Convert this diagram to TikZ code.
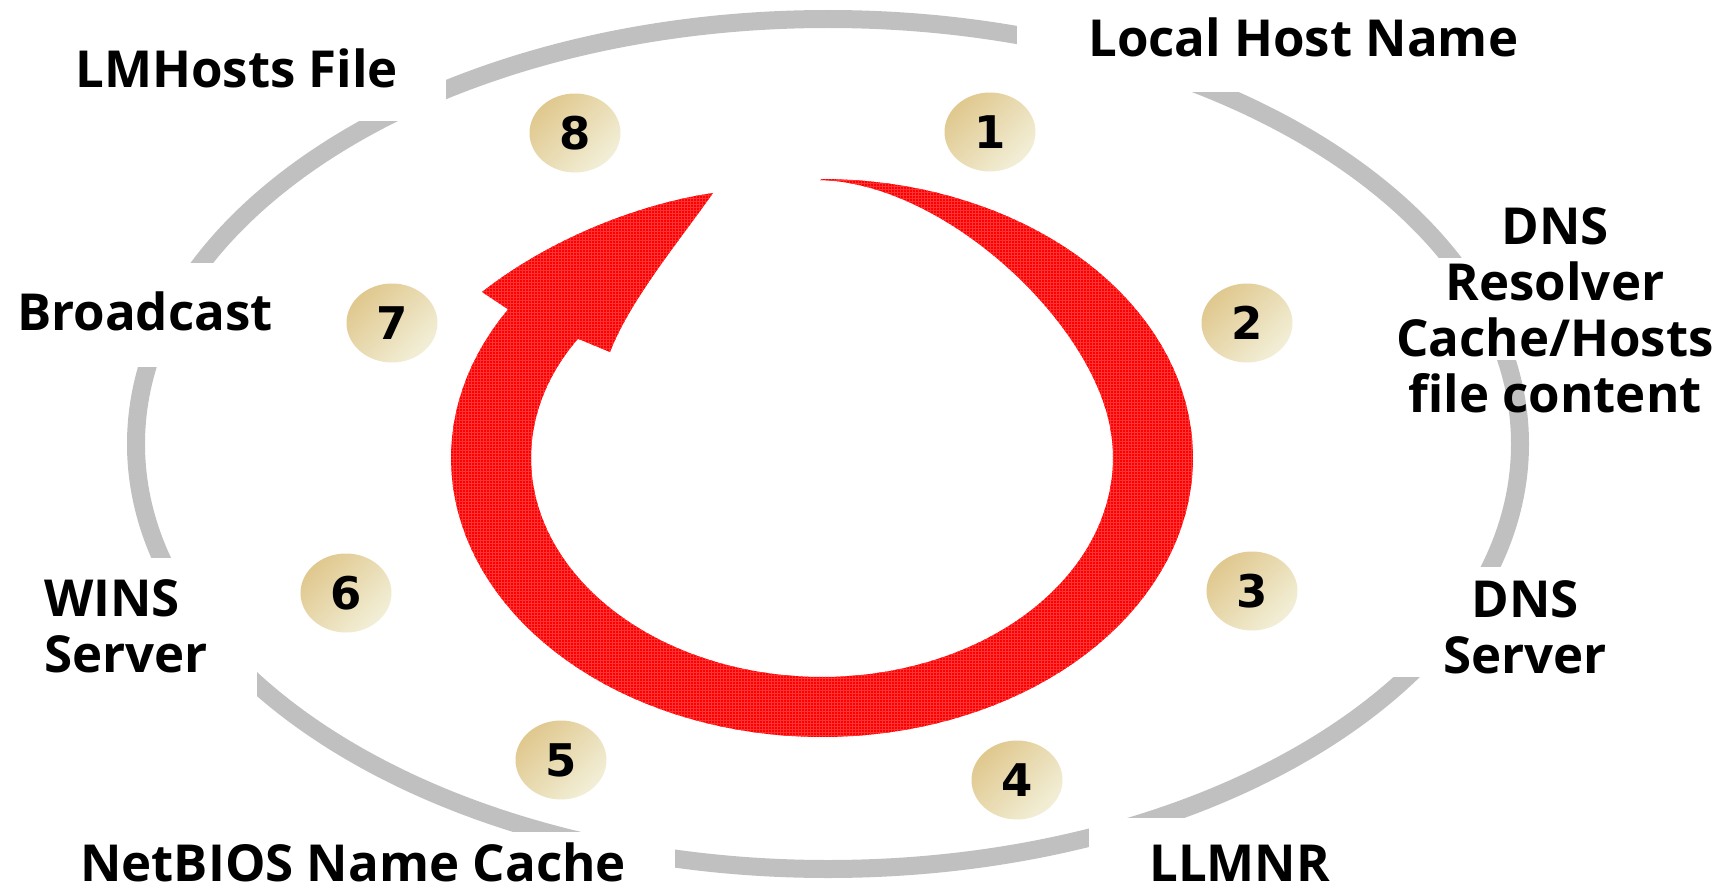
\documentclass[tikz,border=0pt]{standalone}
\usepackage{fontspec}
\setmainfont{Open Sans}
\newfontfamily\badgefont{DejaVu Sans}
\usetikzlibrary{shapes.geometric,patterns}

\definecolor{ringgray}{RGB}{192,192,192}
\definecolor{badgetan}{RGB}{224,200,142}
\definecolor{badgecream}{RGB}{242,239,216}
\definecolor{arrowred}{RGB}{255,0,0}

\begin{document}
\begin{tikzpicture}[x=1pt, y=-1pt,
    badge/.style={ellipse, minimum width=91pt, minimum height=79pt, inner sep=0pt,
        top color=badgetan, bottom color=badgecream, shading angle=45,
        font=\badgefont\bfseries\fontsize{45}{45}\selectfont},
    entry/.style={inner sep=0pt, font=\bfseries\fontsize{51}{56}\selectfont},
    gap/.style={fill=white}
]
\useasboundingbox (0,0) rectangle (1733,891);

% Grey ring
\draw[ringgray, line width=18pt] (828,444) ellipse [x radius=692pt, y radius=425pt];

% Gaps in the ring behind the labels
\fill[gap] (-5,-5) rectangle (446,121);
\fill[gap] (1017,-5) rectangle (1600,92);
\fill[gap] (1400,258) rectangle (1740,360);
\fill[gap] (1380,567) rectangle (1700,677);
\fill[gap] (1089,818) rectangle (1400,900);
\fill[gap] (-5,832) rectangle (675,900);
\fill[gap] (-5,558) rectangle (257,705);
\fill[gap] (-5,263) rectangle (290,367);

% Red circular arrow
\fill[arrowred, postaction={pattern=grid, pattern color=red!80!white}]
    plot[domain=-90:212.2, samples=120] ({822+371*cos(\x)}, {458+279*sin(\x)})
    -- (482,292) .. controls (555,235) and (645,203) .. (713,193)
    .. controls (680,240) and (630,300) .. (610,352)
    -- plot[domain=-213:10, samples=120] ({822+291*cos(-\x)}, {458+219*sin(-\x)})
    .. controls (1083,312) and (940,183) .. (820,180) -- cycle;

% Numbered steps
\foreach \n/\px/\py in {1/990/132, 2/1247/323, 3/1252/591, 4/1017/780,
                        5/561/760, 6/346/593, 7/392/323, 8/575/133}
    \node[badge] (step\n) at (\px,\py) {\n};

% Labels (multi-line ones sit on their last baseline)
\node[entry, anchor=base west] (localhost) at (1088,57) {Local Host Name};
\node[entry, anchor=base, align=center] (resolver) at (1555,412) {DNS\\Resolver\\Cache/Hosts\\file content};
\node[entry, anchor=base, align=center] (dnsserver) at (1525,673) {DNS\\Server};
\node[entry, anchor=base west] (llmnr) at (1149,881) {LLMNR};
\node[entry, anchor=base west] (netbios) at (80,881) {NetBIOS Name Cache};
\node[entry, anchor=base west, align=left] (wins) at (44,672) {WINS\\Server};
\node[entry, anchor=base west] (broadcast) at (17,330) {Broadcast};
\node[entry, anchor=base west] (lmhosts) at (75,88) {LMHosts File};

\end{tikzpicture}
\end{document}
